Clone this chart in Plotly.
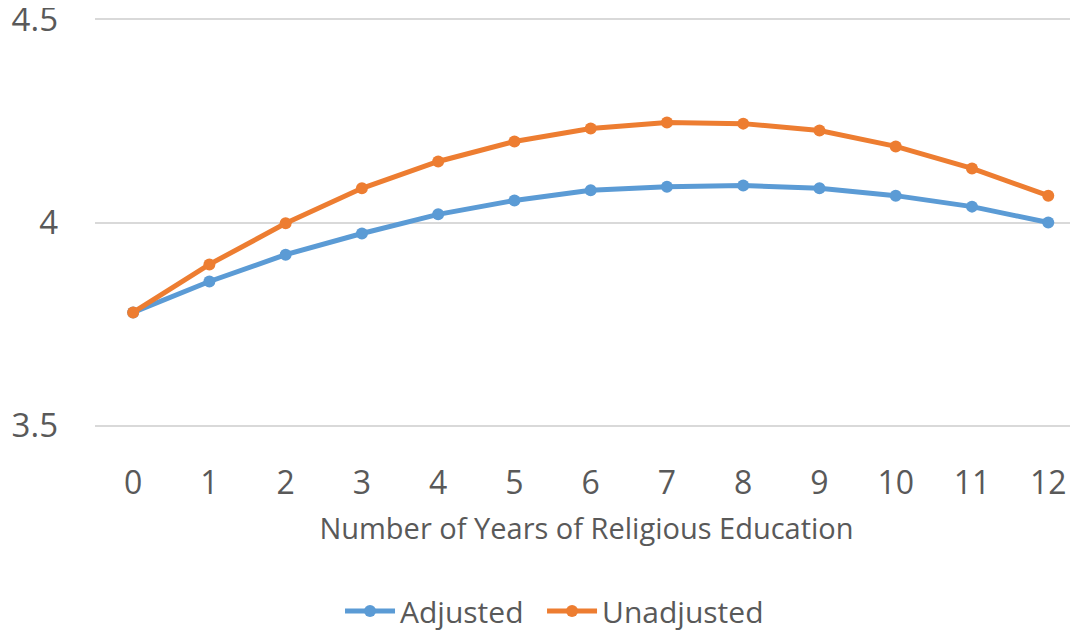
import plotly.graph_objects as go

years = list(range(13))
adjusted = [3.779, 3.855, 3.921, 3.973, 4.020, 4.054, 4.079, 4.088, 4.091, 4.084, 4.066, 4.039, 4.000]
unadjusted = [3.779, 3.897, 3.998, 4.084, 4.150, 4.199, 4.231, 4.246, 4.243, 4.226, 4.187, 4.133, 4.066]

FONT = "Open Sans"
GREY = "#595959"

fig = go.Figure()
fig.add_trace(go.Scatter(x=years, y=adjusted, name="Adjusted", mode="lines+markers", legend="legend",
                         line=dict(color="#5B9BD5", width=5), marker=dict(size=12, color="#5B9BD5")))
fig.add_trace(go.Scatter(x=years, y=unadjusted, name="Unadjusted", mode="lines+markers", legend="legend2",
                         line=dict(color="#ED7D31", width=5), marker=dict(size=12, color="#ED7D31")))

leg_common = dict(orientation="h", yref="container", xref="container", yanchor="middle", y=0.0352,
                  xanchor="left", itemwidth=50,
                  font=dict(size=30, color=GREY, family=FONT), bgcolor="rgba(0,0,0,0)")

fig.update_layout(
    width=1070, height=625,
    margin=dict(l=87, r=0, t=7, b=203),
    paper_bgcolor="white", plot_bgcolor="white",
    font=dict(family=FONT, color=GREY),
    showlegend=True,
    legend=dict(x=0.3103, **leg_common),
    legend2=dict(x=0.4991, **leg_common),
    xaxis=dict(range=[-0.5, 12.39], tickmode="array", tickvals=years, ticktext=[str(v) for v in years],
               showgrid=False, zeroline=False, showline=False,
               tickfont=dict(size=32, color=GREY), ticklabelstandoff=31,
               title=dict(text="Number of Years of Religious Education", font=dict(size=29, color=GREY), standoff=16)),
    yaxis=dict(range=[3.49, 4.51], tickvals=[3.5, 4, 4.5], ticktext=["3.5", "4", "4.5"],
               showgrid=True, gridcolor="#D9D9D9", gridwidth=1.5, zeroline=False, showline=False,
               tickfont=dict(size=33, color=GREY), ticklabelstandoff=36, automargin=False,
               ticklabeloverflow="allow"),
)

fig.write_html("out.html")
